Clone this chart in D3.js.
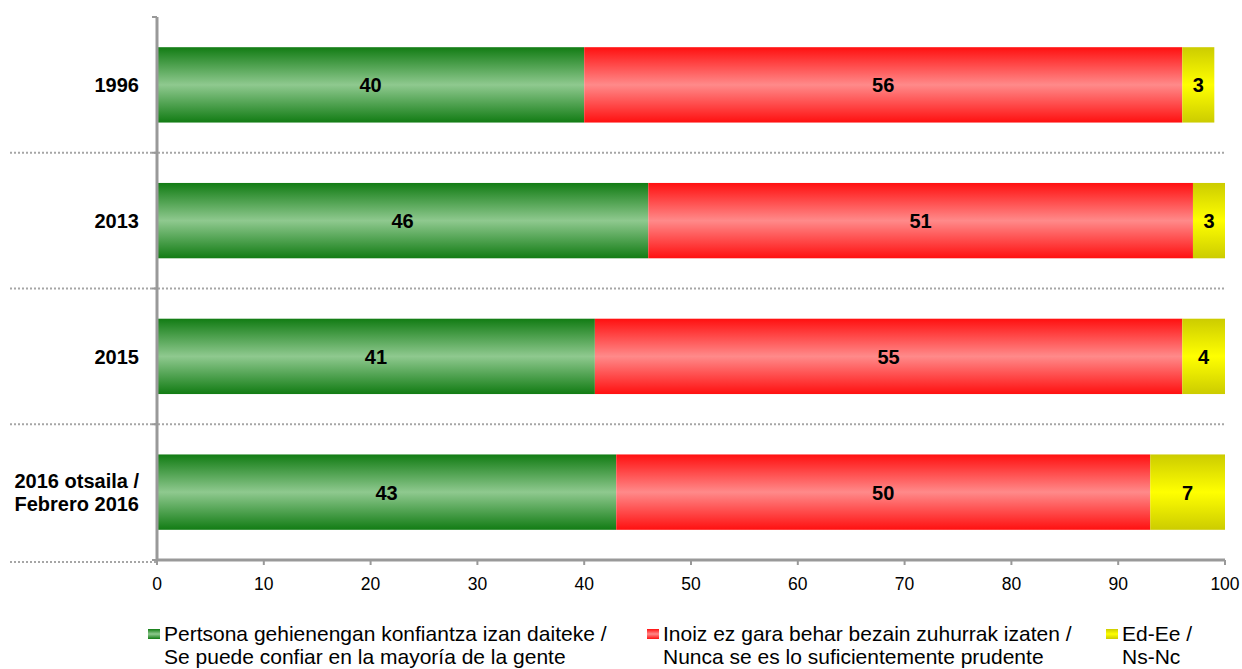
<!DOCTYPE html>
<html><head><meta charset="utf-8">
<script src="https://cdn.jsdelivr.net/npm/d3@7"></script>
<style>body{margin:0;background:#fff;}svg{display:block;font-family:"Liberation Sans",Arial,sans-serif;}</style>
</head><body>
<svg id="c" width="1242" height="669"></svg>
<script>
const categories = [["1996"], ["2013"], ["2015"], ["2016 otsaila /", "Febrero 2016"]];
const seriesNames = [
  ["Pertsona gehienengan konfiantza izan daiteke /", "Se puede confiar en la mayoría de la gente"],
  ["Inoiz ez gara behar bezain zuhurrak izaten /", "Nunca se es lo suficientemente prudente"],
  ["Ed-Ee /", "Ns-Nc"]
];
const confiar = [40, 46, 41, 43];
const prudente = [56, 51, 55, 50];
const nsnc = [3, 3, 4, 7];
const xTicks = [0, 10, 20, 30, 40, 50, 60, 70, 80, 90, 100];
const values = [confiar, prudente, nsnc];

const svg = d3.select("#c");
const L = 157, R = 1225, T = 17, B = 560;
const x = d3.scaleLinear().domain([0, 100]).range([L, R]);
const y = d3.scaleBand().domain(d3.range(categories.length)).range([T, B]).paddingInner(0.445).paddingOuter(0.2225);

const grads = [
  {id: "gG", edge: "#127c14", mid: "#8fc98f"},
  {id: "gR", edge: "#ff1010", mid: "#ff8a8a"},
  {id: "gY", edge: "#cccc00", mid: "#ffff00"}
];
const defs = svg.append("defs");
grads.forEach(g => {
  const lg = defs.append("linearGradient").attr("id", g.id).attr("x1", 0).attr("y1", 0).attr("x2", 0).attr("y2", 1);
  lg.append("stop").attr("offset", "0%").attr("stop-color", g.edge);
  lg.append("stop").attr("offset", "50%").attr("stop-color", g.mid);
  lg.append("stop").attr("offset", "100%").attr("stop-color", g.edge);
});

// dotted separators
const seps = d3.range(1, categories.length + 1).map(i => T + i * (B - T) / categories.length);
svg.append("g").selectAll("line").data(seps).join("line")
  .attr("x1", 10).attr("x2", (d, i) => i === seps.length - 1 ? L : R)
  .attr("y1", d => d + (d === B ? 2 : 0)).attr("y2", d => d + (d === B ? 2 : 0))
  .attr("stroke", "#a6a6a6").attr("stroke-width", 2).attr("stroke-dasharray", "2,2");

// bars
const stacked = categories.map((c, i) => {
  let acc = 0;
  return values.map((s, k) => { const d = {i, k, x0: acc, x1: acc + s[i], v: s[i]}; acc += s[i]; return d; });
}).flat();
const bars = svg.append("g");
bars.selectAll("rect").data(stacked).join("rect")
  .attr("x", d => x(d.x0)).attr("width", d => x(d.x1) - x(d.x0))
  .attr("y", d => y(d.i)).attr("height", y.bandwidth())
  .attr("fill", d => `url(#${grads[d.k].id})`);
bars.selectAll("text").data(stacked).join("text")
  .attr("x", d => (x(d.x0) + x(d.x1)) / 2).attr("y", d => y(d.i) + y.bandwidth() / 2 + 7.5)
  .attr("text-anchor", "middle").attr("font-weight", "bold").attr("font-size", 20).attr("fill", "#000")
  .text(d => d.v);

// y axis
svg.append("line").attr("x1", L).attr("x2", L).attr("y1", T).attr("y2", B + 1).attr("stroke", "#999").attr("stroke-width", 3);
svg.append("g").selectAll("line").data([T].concat(seps)).join("line")
  .attr("x1", L - 5).attr("x2", L).attr("y1", d => d).attr("y2", d => d).attr("stroke", "#999").attr("stroke-width", 2);
// x axis
svg.append("line").attr("x1", L - 1).attr("x2", R).attr("y1", B).attr("y2", B).attr("stroke", "#999").attr("stroke-width", 3);
const xa = svg.append("g");
xa.selectAll("line").data(xTicks).join("line")
  .attr("x1", d => x(d)).attr("x2", d => x(d)).attr("y1", B).attr("y2", B + 5).attr("stroke", "#999").attr("stroke-width", 2);
xa.selectAll("text").data(xTicks).join("text")
  .attr("x", d => x(d)).attr("y", B + 30).attr("text-anchor", "middle").attr("font-size", 17.5).attr("fill", "#000").text(d => d);

// category labels
const cl = svg.append("g").selectAll("text").data(categories).join("text")
  .attr("text-anchor", "end").attr("font-weight", "bold").attr("font-size", 20).attr("fill", "#000")
  .attr("x", 139)
  .attr("y", (d, i) => y(i) + y.bandwidth() / 2 + 7.5 - (d.length - 1) * 12);
cl.selectAll("tspan").data(d => d).join("tspan").attr("x", 139).attr("dy", (d, j) => j ? 23 : 0).text(d => d);

// legend
const legX = [148, 647, 1106];
const lg = svg.append("g").selectAll("g").data(seriesNames).join("g").attr("transform", (d, i) => `translate(${legX[i]},0)`);
lg.append("rect").attr("x", 0).attr("y", 629).attr("width", 12).attr("height", 10).attr("fill", (d, i) => `url(#${grads[i].id})`);
const lt = lg.append("text").attr("font-size", 21).attr("fill", "#000");
lt.selectAll("tspan").data(d => d).join("tspan").attr("x", 16).attr("y", (d, j) => 641 + j * 22.5).text(d => d);
</script>
</body></html>
